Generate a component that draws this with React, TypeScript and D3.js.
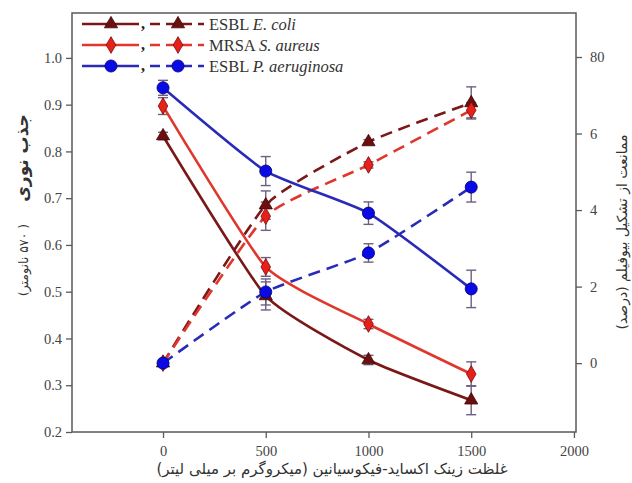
import * as d3 from 'd3';
import { useRef, useEffect } from 'react';

// concentrations (µg/ml)
const concentrations = [0, 500, 1000, 1500];
const xTicks = [0, 500, 1000, 1500, 2000];

// optical density (left axis, solid lines)
const ecoliOD = [0.833, 0.491, 0.354, 0.268];
const ecoliODErr = [0.008, 0.03, 0.01, 0.031];
const mrsaOD = [0.897, 0.553, 0.431, 0.324];
const mrsaODErr = [0.018, 0.02, 0.01, 0.026];
const paerOD = [0.936, 0.758, 0.668, 0.506];
const paerODErr = [0.016, 0.031, 0.024, 0.04];

// biofilm inhibition (right axis, dashed lines)
const ecoliInh = [0, 4.13, 5.78, 6.8];
const ecoliInhErr = [0, 0.37, 0.06, 0.42];
const mrsaInh = [0, 3.84, 5.18, 6.61];
const mrsaInhErr = [0, 0.37, 0.08, 0.2];
const paerInh = [0, 1.86, 2.88, 4.6];
const paerInhErr = [0, 0.34, 0.24, 0.39];

const leftTicks = [0.2, 0.3, 0.4, 0.5, 0.6, 0.7, 0.8, 0.9, 1.0];
const rightTicks = [0, 2, 4, 6, 8];
const rightTickLabels = ['0', '2', '4', '6', '80'];

const seriesInfo = [
  { name: 'ESBL ', species: 'E. coli', od: ecoliOD, odErr: ecoliODErr, inh: ecoliInh, inhErr: ecoliInhErr, line: '#7a1818', fill: '#6e0f0f', stroke: '#3a0505', symbol: d3.symbolTriangle },
  { name: 'MRSA ', species: 'S. aureus', od: mrsaOD, odErr: mrsaODErr, inh: mrsaInh, inhErr: mrsaInhErr, line: '#e0372c', fill: '#e8201a', stroke: '#7a0a0a', symbol: d3.symbolDiamond },
  { name: 'ESBL ', species: 'P. aeruginosa', od: paerOD, odErr: paerODErr, inh: paerInh, inhErr: paerInhErr, line: '#2a2ab8', fill: '#0a0ae6', stroke: '#00006e', symbol: d3.symbolCircle },
];

const App = () => {
  const svgRef = useRef<SVGSVGElement | null>(null);

  useEffect(() => {
    const svg = d3.select(svgRef.current);
    svg.selectAll('*').remove();

    const left = 72, right = 576, top = 13, bottom = 432;
    const axisColor = '#5a5a5a';
    const serif = 'Liberation Serif, Times New Roman, serif';
    const persian = 'DejaVu Sans, sans-serif';

    const x = d3.scaleLinear().domain([-443, 2010]).range([left, right]);
    const yL = d3.scaleLinear().domain([0.2, 1.096]).range([bottom, top]);
    const yR = d3.scaleLinear().domain([-1.8, 9.15]).range([bottom, top]);

    // frame
    svg.append('rect')
      .attr('x', left).attr('y', top)
      .attr('width', right - left).attr('height', bottom - top)
      .attr('fill', 'none').attr('stroke', axisColor).attr('stroke-width', 1.5);

    // axes
    const styleAxis = (g: any) => {
      g.attr('font-family', serif);
      g.select('.domain').remove();
      g.selectAll('.tick line').attr('stroke', axisColor).attr('stroke-width', 1.3);
      g.selectAll('.tick text').attr('fill', '#444').attr('font-family', serif).attr('font-size', 14.5);
    };

    svg.append('g')
      .attr('transform', `translate(${left},0)`)
      .call(d3.axisLeft(yL).tickValues(leftTicks).tickFormat(d3.format('.1f')).tickSize(6).tickPadding(4))
      .call(styleAxis);

    svg.append('g')
      .attr('transform', `translate(${right},0)`)
      .call(d3.axisRight(yR).tickValues(rightTicks).tickFormat((d, i) => rightTickLabels[i]).tickSize(6).tickPadding(8))
      .call(styleAxis);

    svg.append('g')
      .attr('transform', `translate(0,${bottom})`)
      .call(d3.axisBottom(x).tickValues(xTicks).tickFormat(d3.format('d')).tickSize(6).tickPadding(8))
      .call(styleAxis);

    // axis titles
    svg.append('text')
      .attr('transform', 'translate(28,158) rotate(-90)')
      .attr('text-anchor', 'middle').attr('direction', 'rtl')
      .attr('font-family', persian).attr('font-size', 17).attr('font-weight', 'bold').attr('fill', '#333')
      .text('جذب نوری');
    svg.append('text')
      .attr('transform', 'translate(28,260) rotate(-90)')
      .attr('text-anchor', 'middle').attr('direction', 'rtl')
      .attr('font-family', persian).attr('font-size', 12.5).attr('fill', '#333')
      .text('( ۵۷۰ نانومتر)');
    svg.append('text')
      .attr('transform', 'translate(627,232) rotate(-90)')
      .attr('text-anchor', 'middle').attr('direction', 'rtl')
      .attr('font-family', persian).attr('font-size', 14).attr('fill', '#333')
      .text('ممانعت از تشکیل بیوفیلم (درصد)');
    svg.append('text')
      .attr('x', 332).attr('y', 474)
      .attr('text-anchor', 'middle').attr('direction', 'rtl')
      .attr('font-family', persian).attr('font-size', 15).attr('fill', '#333')
      .text('غلظت زینک اکساید-فیکوسیانین (میکروگرم بر میلی لیتر)');

    const line = (ys: any) => d3.line<number>()
      .x((d, i) => x(concentrations[i]))
      .y(d => ys(d))
      .curve(d3.curveCardinal.tension(0.5));

    const plot = svg.append('g');
    const errColor = '#6d5f80';

    const drawErr = (vals: number[], errs: number[], ys: any) => {
      vals.forEach((v, i) => {
        if (!errs[i]) return;
        const cx = x(concentrations[i]);
        const y1 = ys(v - errs[i]), y2 = ys(v + errs[i]);
        plot.append('line').attr('x1', cx).attr('x2', cx).attr('y1', y1).attr('y2', y2)
          .attr('stroke', errColor).attr('stroke-width', 1.4);
        [y1, y2].forEach(yy => plot.append('line')
          .attr('x1', cx - 5).attr('x2', cx + 5).attr('y1', yy).attr('y2', yy)
          .attr('stroke', errColor).attr('stroke-width', 1.4));
      });
    };

    const symSize = (s: any) => (s === d3.symbolCircle ? 115 : s === d3.symbolTriangle ? 75 : 80);

    const drawMarkers = (vals: number[], ys: any, s: any) => {
      vals.forEach((v, i) => {
        plot.append('path')
          .attr('d', d3.symbol(s.symbol, symSize(s.symbol))()!)
          .attr('transform', `translate(${x(concentrations[i])},${ys(v)})`)
          .attr('fill', s.fill).attr('stroke', s.stroke).attr('stroke-width', 0.8);
      });
    };

    seriesInfo.forEach(s => {
      drawErr(s.od, s.odErr, yL);
      drawErr(s.inh, s.inhErr, yR);
    });

    seriesInfo.forEach(s => {
      plot.append('path').attr('d', line(yL)(s.od)!)
        .attr('fill', 'none').attr('stroke', s.line).attr('stroke-width', 2.6);
      plot.append('path').attr('d', line(yR)(s.inh)!)
        .attr('fill', 'none').attr('stroke', s.line).attr('stroke-width', 2.6)
        .attr('stroke-dasharray', '12,7');
    });

    seriesInfo.forEach(s => {
      drawMarkers(s.od, yL, s);
      drawMarkers(s.inh, yR, s);
    });

    // legend
    const legendY = [24, 45, 66];
    seriesInfo.forEach((s, i) => {
      const ly = legendY[i];
      const g = svg.append('g');
      g.append('line').attr('x1', 82).attr('x2', 139).attr('y1', ly).attr('y2', ly)
        .attr('stroke', s.line).attr('stroke-width', 2.6);
      g.append('path').attr('d', d3.symbol(s.symbol, symSize(s.symbol))()!)
        .attr('transform', `translate(111,${ly})`)
        .attr('fill', s.fill).attr('stroke', s.stroke).attr('stroke-width', 0.8);
      g.append('text').attr('x', 141).attr('y', ly + 5)
        .attr('font-family', serif).attr('font-size', 16).attr('font-weight', 'bold').attr('fill', '#222')
        .text(',');
      g.append('line').attr('x1', 150).attr('x2', 204).attr('y1', ly).attr('y2', ly)
        .attr('stroke', s.line).attr('stroke-width', 2.6).attr('stroke-dasharray', '10,6');
      g.append('path').attr('d', d3.symbol(s.symbol, symSize(s.symbol))()!)
        .attr('transform', `translate(178,${ly})`)
        .attr('fill', s.fill).attr('stroke', s.stroke).attr('stroke-width', 0.8);
      const t = g.append('text').attr('x', 209).attr('y', ly + 5.5)
        .attr('font-family', serif).attr('font-size', 16.5).attr('fill', '#333');
      t.append('tspan').text(s.name);
      t.append('tspan').attr('font-style', 'italic').text(s.species);
    });
  }, []);

  return (
    <svg
      ref={svgRef}
      width={632}
      height={483}
      style={{ position: 'absolute', left: 0, top: 0, background: '#fff' }}
    />
  );
};

export default App;
